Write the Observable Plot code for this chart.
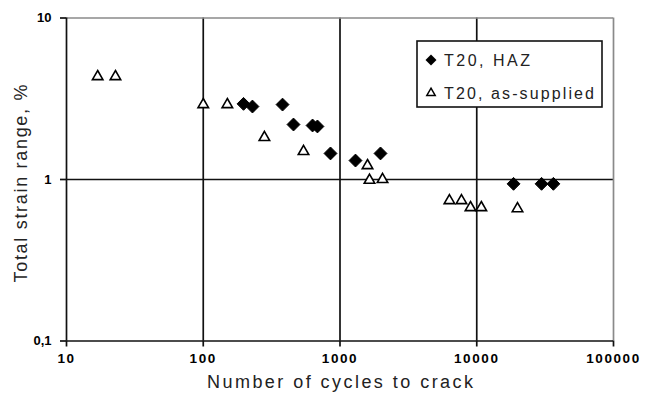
<!DOCTYPE html>
<html>
<head>
<meta charset="utf-8">
<script src="https://cdn.jsdelivr.net/npm/d3@7"></script>
<script src="https://cdn.jsdelivr.net/npm/@observablehq/plot@0.6"></script>
<style>
  html, body { margin: 0; padding: 0; background: #fff; }
  #wrap { position: relative; width: 650px; height: 403px; font-family: "Liberation Sans", Arial, sans-serif; }
  #legend { position: absolute; left: 416px; top: 40px; }
  .tick-lbl text { letter-spacing: 1.6px; }
</style>
</head>
<body>
<div id="wrap"></div>
<script>
// HAZ series (filled diamonds)
const hazCycles = [197, 229, 380, 457, 630, 684, 852, 1298, 1978, 18580, 29780, 36340];
const hazStrain = [2.94, 2.83, 2.91, 2.19, 2.16, 2.13, 1.45, 1.31, 1.45, 0.94, 0.94, 0.94];
// As-supplied series (open triangles)
const supCycles = [16.9, 22.8, 100, 150, 280, 541, 1589, 1643, 2046, 6310, 7730, 9000, 10800, 19860];
const supStrain = [4.34, 4.34, 2.91, 2.91, 1.82, 1.49, 1.22, 0.99, 1.0, 0.74, 0.74, 0.67, 0.67, 0.66];
// Tick values and labels
const xTicks = [10, 100, 1000, 10000, 100000];
const xTickLabels = ["10", "100", "1000", "10000", "100000"];
const yTicks = [0.1, 1, 10];
const yTickLabels = ["0,1", "1", "10"];
const seriesNames = ["T20, HAZ", "T20, as-supplied"];
const xTitle = "Number of cycles to crack";
const yTitle = "Total strain range, %";

const haz = hazCycles.map((n, i) => ({n, s: hazStrain[i]}));
const sup = supCycles.map((n, i) => ({n, s: supStrain[i]}));

const chart = Plot.plot({
  width: 650,
  height: 403,
  marginLeft: 66,
  marginRight: 37,
  marginTop: 17.5,
  marginBottom: 62.5,
  style: {fontFamily: "'Liberation Sans', Arial, sans-serif", background: "#fff"},
  x: {type: "log", domain: [10, 100000]},
  y: {type: "log", domain: [0.1, 10]},
  marks: [
    // grid
    Plot.ruleX(xTicks.slice(1, -1), {stroke: "#111", strokeWidth: 1.7}),
    Plot.ruleY(yTicks.slice(1, -1), {stroke: "#111", strokeWidth: 1.7}),
    // frame: grey top/right, black left/bottom
    Plot.ruleY([10], {stroke: "#8a8a8a", strokeWidth: 1.7}),
    Plot.ruleX([100000], {stroke: "#8a8a8a", strokeWidth: 1.7}),
    Plot.ruleX([10], {stroke: "#111", strokeWidth: 1.7}),
    Plot.ruleY([0.1], {stroke: "#111", strokeWidth: 1.7}),
    Plot.axisX({ticks: xTicks, tickFormat: (d) => xTickLabels[xTicks.indexOf(d)], tickSize: 6, tickPadding: 6,
      fontSize: 13.5, fontWeight: "bold", label: null, stroke: "#111", strokeWidth: 1.7, className: "tick-lbl"}),
    Plot.axisY({ticks: yTicks, tickFormat: (d) => yTickLabels[yTicks.indexOf(d)], tickSize: 6, tickPadding: 9,
      fontSize: 13, fontWeight: "bold", label: null, stroke: "#111", strokeWidth: 1.7}),
    Plot.text([xTitle], {frameAnchor: "bottom", dy: 47, fontSize: 18, fill: "#222", className: "xtitle"}),
    Plot.text([yTitle], {frameAnchor: "left", textAnchor: "middle", dx: -45, dy: 4, rotate: -90, fontSize: 18, fill: "#222", className: "ytitle"}),
    Plot.dot(sup, {x: "n", y: "s", symbol: "triangle", r: 3.9, stroke: "#000", fill: "#fff", strokeWidth: 1.6}),
    Plot.dot(haz, {x: "n", y: "s", symbol: "diamond2", r: 5.8, fill: "#000", stroke: "#000", strokeWidth: 1})
  ]
});
document.getElementById("wrap").appendChild(chart);

// stretch titles to the reference widths
d3.select(chart).select(".xtitle text").attr("textLength", 266).attr("lengthAdjust", "spacing");
d3.select(chart).select(".ytitle text").attr("textLength", 198).attr("lengthAdjust", "spacing").style("opacity", 0.99);

// legend
const lg = d3.select("#wrap").append("svg").attr("id", "legend")
  .attr("width", 187).attr("height", 68)
  .style("font-family", "'Liberation Sans', Arial, sans-serif");
lg.append("rect").attr("x", 1).attr("y", 1).attr("width", 185).attr("height", 66)
  .attr("fill", "#fff").attr("stroke", "#111").attr("stroke-width", 1.6);
lg.append("path").attr("d", d3.symbol(d3.symbolSquare, 60)()).attr("transform", "translate(15,20) rotate(45)").attr("fill", "#000");
lg.append("path").attr("d", d3.symbol(d3.symbolTriangle2, 50)()).attr("transform", "translate(15,53)")
  .attr("fill", "#fff").attr("stroke", "#000").attr("stroke-width", 1.5);
lg.append("text").attr("x", 28).attr("y", 26).attr("font-size", 16).attr("fill", "#222")
  .attr("textLength", 86).attr("lengthAdjust", "spacing").text(seriesNames[0]);
lg.append("text").attr("x", 28).attr("y", 59).attr("font-size", 16).attr("fill", "#222")
  .attr("textLength", 150).attr("lengthAdjust", "spacing").text(seriesNames[1]);
</script>
</body>
</html>
